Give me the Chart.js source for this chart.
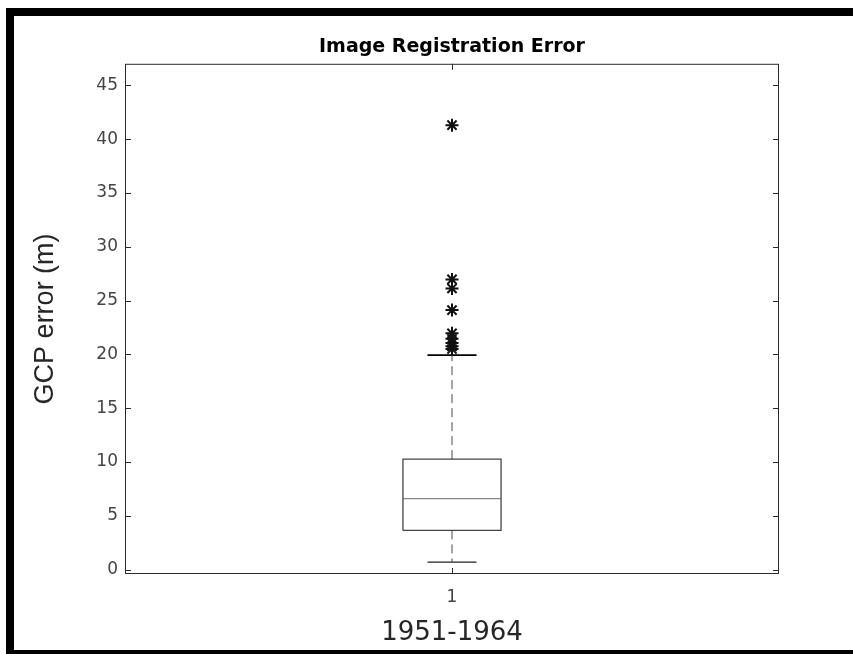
<!DOCTYPE html>
<html>
<head>
<meta charset="utf-8">
<script src="https://cdn.jsdelivr.net/npm/chart.js@4/dist/chart.umd.min.js"></script>
<style>
  html, body { margin: 0; padding: 0; background: #fff; overflow: hidden; }
  #wrap { position: relative; width: 853px; height: 654px; }
  #frame {
    position: absolute; left: 6px; top: 8px; width: 900px; height: 634px;
    border-top: 8px solid #000; border-left: 8px solid #000; border-bottom: 4px solid #000;
    box-sizing: content-box; pointer-events: none;
  }
</style>
</head>
<body>
<div id="wrap">
  <canvas id="canvas" width="853" height="654"></canvas>
  <div id="frame"></div>
</div>
<script>
// data
const categories = ['1'];
const xTicks = [1];
const yTicks = [0, 5, 10, 15, 20, 25, 30, 35, 40, 45];
const lowerWhisker = [0.71];
const q1 = [3.65];
const median = [6.6];
const q3 = [10.27];
const upperWhisker = [19.94];
const outliers = [41.3, 26.97, 26.13, 24.12, 21.96, 21.45, 21.05, 20.75, 20.5];

const boxHalf = 0.075;
const capHalf = 0.0375;
const axisColor = '#2b2b2b';

const datasets = [];
categories.forEach((c, i) => {
  const x = i + 1;
  datasets.push({
    data: [
      {x: x - boxHalf, y: q1[i]}, {x: x + boxHalf, y: q1[i]},
      {x: x + boxHalf, y: q3[i]}, {x: x - boxHalf, y: q3[i]},
      {x: x - boxHalf, y: q1[i]}
    ],
    showLine: true, borderColor: '#444', borderWidth: 1.3, pointRadius: 0
  });
  datasets.push({
    data: [{x: x - boxHalf, y: median[i]}, {x: x + boxHalf, y: median[i]}],
    showLine: true, borderColor: '#8a8a8a', borderWidth: 1.2, pointRadius: 0
  });
  datasets.push({
    data: [{x: x, y: q3[i]}, {x: x, y: upperWhisker[i]}],
    showLine: true, borderColor: '#4a4a4a', borderWidth: 1, borderDash: [9, 5], pointRadius: 0
  });
  datasets.push({
    data: [{x: x, y: q1[i]}, {x: x, y: lowerWhisker[i]}],
    showLine: true, borderColor: '#4a4a4a', borderWidth: 1, borderDash: [9, 5], pointRadius: 0
  });
  datasets.push({
    data: [{x: x - capHalf, y: upperWhisker[i]}, {x: x + capHalf, y: upperWhisker[i]}],
    showLine: true, borderColor: '#000', borderWidth: 1.8, pointRadius: 0
  });
  datasets.push({
    data: [{x: x - capHalf, y: lowerWhisker[i]}, {x: x + capHalf, y: lowerWhisker[i]}],
    showLine: true, borderColor: '#222', borderWidth: 1.3, pointRadius: 0
  });
  datasets.push({
    data: outliers.map(v => ({x: x, y: v})),
    showLine: false, pointStyle: 'star', pointRadius: 6.5,
    borderColor: '#111', borderWidth: 2, backgroundColor: '#111'
  });
});

// matlab style box around the axes with inward ticks
const axesBox = {
  id: 'axesBox',
  afterDraw(chart) {
    const {ctx, chartArea: a, scales} = chart;
    ctx.save();
    ctx.strokeStyle = axisColor;
    ctx.lineWidth = 1;
    ctx.strokeRect(a.left + 0.5, a.top + 0.5, a.right - a.left - 1, a.bottom - a.top - 1);
    ctx.beginPath();
    yTicks.forEach(v => {
      const py = Math.round(scales.y.getPixelForValue(v)) + 0.5;
      ctx.moveTo(a.left, py); ctx.lineTo(a.left + 6, py);
      ctx.moveTo(a.right, py); ctx.lineTo(a.right - 6, py);
    });
    xTicks.forEach(v => {
      const px = Math.round(scales.x.getPixelForValue(v)) + 0.5;
      ctx.moveTo(px, a.bottom); ctx.lineTo(px, a.bottom - 6);
      ctx.moveTo(px, a.top); ctx.lineTo(px, a.top + 6);
    });
    ctx.stroke();
    ctx.restore();
  }
};

const ctx = document.getElementById('canvas').getContext('2d');

new Chart(ctx, {
  type: 'scatter',
  data: { datasets: datasets },
  plugins: [axesBox],
  options: {
    responsive: false,
    animation: false,
    layout: { padding: { left: 0, right: 74, top: 0, bottom: 0 } },
    plugins: {
      legend: { display: false },
      tooltip: { enabled: false },
      title: {
        display: true,
        fullSize: false,
        text: 'Image Registration Error',
        color: '#000',
        font: { family: 'DejaVu Sans', size: 19, weight: 'bold', lineHeight: 1.2 },
        padding: { top: 36, bottom: 5 }
      }
    },
    scales: {
      x: {
        type: 'linear',
        min: 0.5,
        max: 1.5,
        afterBuildTicks: s => { s.ticks = xTicks.map(v => ({value: v})); },
        afterFit: s => { s.height = 80; },
        grid: { display: false, drawTicks: false },
        border: { display: false },
        ticks: {
          color: '#444',
          padding: 13,
          font: { family: 'DejaVu Sans', size: 17 },
          callback: (v, i) => categories[i]
        },
        title: {
          display: true,
          text: '1951-1964',
          color: '#262626',
          font: { family: 'DejaVu Sans', size: 26, lineHeight: 1.2 },
          padding: { top: 0, bottom: 5 }
        }
      },
      y: {
        type: 'linear',
        min: -0.4,
        max: 47,
        afterBuildTicks: s => { s.ticks = yTicks.map(v => ({value: v})); },
        afterFit: s => { s.width = 125; },
        grid: { display: false, drawTicks: false },
        border: { display: false },
        ticks: {
          color: '#444',
          padding: 7,
          font: { family: 'DejaVu Sans', size: 17 }
        },
        title: {
          display: true,
          text: 'GCP error (m)',
          color: '#262626',
          font: { family: 'Liberation Sans', size: 27, lineHeight: 1.2 },
          padding: { top: 29, bottom: 0 }
        }
      }
    }
  }
});
</script>
</body>
</html>
